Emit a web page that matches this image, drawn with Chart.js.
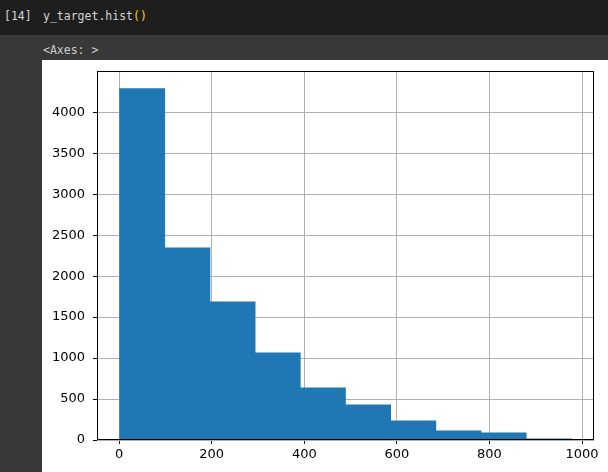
<!DOCTYPE html>
<html>
<head>
<meta charset="utf-8">
<script src="https://cdn.jsdelivr.net/npm/chart.js@4.4.0/dist/chart.umd.min.js"></script>
<style>
  html, body { margin: 0; padding: 0; }
  body { width: 608px; height: 472px; background: #383838; position: relative; overflow: hidden; }
  #cell { position: absolute; left: 0; top: 0; width: 608px; height: 35px; background: #1e1e1e;
          font-family: "DejaVu Sans Mono", monospace; font-size: 11.5px; color: #d4d4d4; }
  #num { position: absolute; left: 4px; top: 9px; }
  #code { position: absolute; left: 43px; top: 9px; }
  #code .p { color: #ffd700; }
  #out { position: absolute; left: 43px; top: 43px; font-family: "DejaVu Sans Mono", monospace;
         font-size: 11.5px; color: #cccccc; }
  #plot { position: absolute; left: 42px; top: 60px; width: 566px; height: 412px; background: #fff; }
</style>
</head>
<body>
<div id="cell"><span id="num">[14]</span><span id="code">y_target.hist<span class="p">()</span></span></div>
<div id="out">&lt;Axes: &gt;</div>
<div id="plot"><canvas id="myChart" width="566" height="412"></canvas></div>
<script>
// histogram of y_target, 10 bins (centers) and counts
var binCenters = [49.8, 147.4, 245.0, 342.6, 440.2, 537.8, 635.4, 733.0, 830.6, 928.2];
var counts = [4290, 2345, 1688, 1064, 637, 430, 234, 112, 88, 15];
var xTicks = [0, 200, 400, 600, 800, 1000];
var yTicks = [0, 500, 1000, 1500, 2000, 2500, 3000, 3500, 4000];

var points = [];
for (var i = 0; i < binCenters.length; i++) {
  points.push({x: binCenters[i], y: counts[i]});
}

var frame = {
  id: 'frame',
  afterDraw: function(chart) {
    var a = chart.chartArea, c = chart.ctx;
    c.save();
    c.strokeStyle = '#000';
    c.lineWidth = 1;
    c.strokeRect(Math.round(a.left) + 0.5, Math.round(a.top) + 0.5,
                 Math.round(a.right - a.left) - 1, Math.round(a.bottom - a.top) - 1);
    c.restore();
  }
};

var tickFont = {family: 'DejaVu Sans', size: 13};

var ctx = document.getElementById('myChart').getContext('2d');
var myChart = new Chart(ctx, {
  type: 'bar',
  data: {
    datasets: [{
      data: points,
      backgroundColor: '#1f77b4',
      borderWidth: 0,
      barPercentage: 1,
      categoryPercentage: 1
    }]
  },
  options: {
    responsive: false,
    animation: false,
    layout: {padding: {left: 0, top: 11, right: 14, bottom: 0}},
    plugins: {legend: {display: false}, tooltip: {enabled: false}},
    scales: {
      x: {
        type: 'linear',
        min: -47.8,
        max: 1025.8,
        offset: false,
        z: 1,
        afterBuildTicks: function(s) { s.ticks = xTicks.map(function(v) { return {value: v}; }); },
        afterFit: function(s) { s.height = 32; },
        grid: {color: '#b0b0b0', lineWidth: 1, tickColor: '#000', tickLength: 4, offset: false},
        border: {display: false},
        ticks: {color: '#000', font: tickFont, padding: 3, maxRotation: 0,
                callback: function(v) { return String(v); }}
      },
      y: {
        min: 0,
        max: 4504,
        z: 1,
        afterBuildTicks: function(s) { s.ticks = yTicks.map(function(v) { return {value: v}; }); },
        afterFit: function(s) { s.width = 55; s.paddingTop = 0; s.paddingBottom = 0; },
        grid: {color: '#b0b0b0', lineWidth: 1, tickColor: '#000', tickLength: 4},
        border: {display: false},
        ticks: {color: '#000', font: tickFont, padding: 8,
                callback: function(v) { return String(v); }}
      }
    }
  },
  plugins: [frame]
});
</script>
</body>
</html>
